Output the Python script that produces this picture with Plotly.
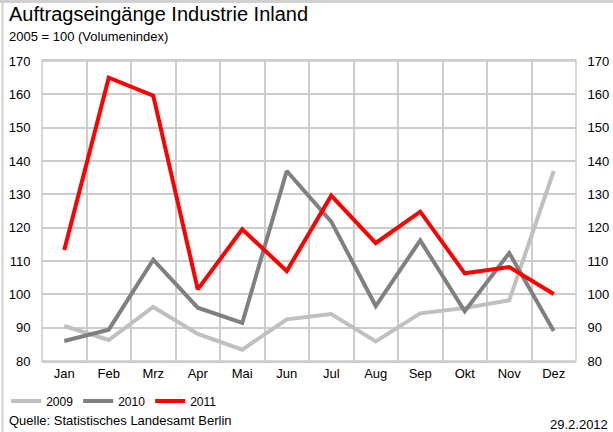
import plotly.graph_objects as go

months = ["Jan", "Feb", "Mrz", "Apr", "Mai", "Jun", "Jul", "Aug", "Sep", "Okt", "Nov", "Dez"]
v2009 = [90.5, 86.3, 96.2, 88.1, 83.4, 92.5, 94.1, 85.9, 94.3, 95.9, 98.2, 137.0]
v2010 = [86.0, 89.4, 110.4, 96.0, 91.4, 137.0, 121.8, 96.5, 116.2, 94.9, 112.4, 89.0]
v2011 = [113.3, 165.0, 159.6, 101.5, 119.5, 107.0, 129.6, 115.4, 124.8, 106.3, 108.2, 100.1]
y_ticks = [80, 90, 100, 110, 120, 130, 140, 150, 160, 170]

series = [("2009", v2009, "#c0c0c0"), ("2010", v2010, "#808080"), ("2011", v2011, "#ff0000")]

fig = go.Figure()
for name, vals, col in series:
    fig.add_trace(go.Scatter(x=months, y=vals, name=name, mode="lines",
                             line=dict(color=col, width=4)))
# invisible trace for right axis
fig.add_trace(go.Scatter(x=months, y=v2011, yaxis="y2", showlegend=False,
                         mode="lines", line=dict(width=0), hoverinfo="skip", opacity=0))

font = "Liberation Sans, Arial, sans-serif"
fig.update_layout(
    width=613, height=432,
    margin=dict(l=42, r=37, t=61, b=71, autoexpand=False),
    paper_bgcolor="white", plot_bgcolor="white",
    font=dict(family=font, size=13, color="#000000"),
    xaxis=dict(type="category", range=[-0.5, 11.5], tickson="boundaries", showgrid=True,
               gridcolor="#cccccc", gridwidth=1.5, ticks="outside", ticklen=4,
               tickcolor="rgba(0,0,0,0)", showline=True, automargin=False,
               linecolor="#cccccc", linewidth=1.5, mirror=True, tickfont=dict(size=13),
               zeroline=False),
    yaxis=dict(range=[80, 170], tickvals=y_ticks, showgrid=True, gridcolor="#cccccc",
               gridwidth=1.5, ticks="outside", ticklen=8, tickcolor="white", showline=False,
               zeroline=False, tickfont=dict(size=13), automargin=False),
    yaxis2=dict(range=[80, 170], tickvals=y_ticks, overlaying="y", side="right",
                showgrid=False, ticks="outside", ticklen=8, tickcolor="white", zeroline=False,
                tickfont=dict(size=13), automargin=False),
    legend=dict(orientation="h", xref="container", yref="container", x=0.01, xanchor="left",
                y=0.072, yanchor="middle", font=dict(size=12), itemwidth=30,
                tracegroupgap=0, bgcolor="rgba(0,0,0,0)"),
    showlegend=True,
)
fig.add_annotation(text="Auftragseingänge Industrie Inland", xref="paper", yref="paper",
                   x=0, y=1, xshift=-35, yshift=60, xanchor="left", yanchor="top",
                   showarrow=False, font=dict(size=20))
fig.add_annotation(text="2005 = 100 (Volumenindex)", xref="paper", yref="paper",
                   x=0, y=1, xshift=-35, yshift=34, xanchor="left", yanchor="top",
                   showarrow=False, font=dict(size=13))
fig.add_annotation(text="Quelle: Statistisches Landesamt Berlin", xref="paper", yref="paper",
                   x=0, y=0, xshift=-35, yshift=-50, xanchor="left", yanchor="top",
                   showarrow=False, font=dict(size=13))
fig.add_annotation(text="29.2.2012", xref="paper", yref="paper",
                   x=1, y=0, xshift=34, yshift=-54, xanchor="right", yanchor="top",
                   showarrow=False, font=dict(size=13))
fig.add_shape(type="rect", xref="paper", yref="paper", x0=0, y0=0, x1=1, y1=1,
              line=dict(color="#cccccc", width=1.5), layer="above")
# outer image frame (top and left edges)
fig.add_shape(type="line", xref="paper", yref="paper",
              xsizemode="pixel", xanchor=0, x0=-42, x1=571,
              ysizemode="pixel", yanchor=1, y0=59.5, y1=59.5,
              line=dict(color="#d0d0d0", width=3), layer="above")
fig.add_shape(type="line", xref="paper", yref="paper",
              xsizemode="pixel", xanchor=0, x0=-39.5, x1=-39.5,
              ysizemode="pixel", yanchor=1, y0=61, y1=-371,
              line=dict(color="#d0d0d0", width=2), layer="above")
fig.write_html("out.html", config={"displayModeBar": False},
               post_script="document.body.style.margin='0';document.body.style.overflow='hidden';")
